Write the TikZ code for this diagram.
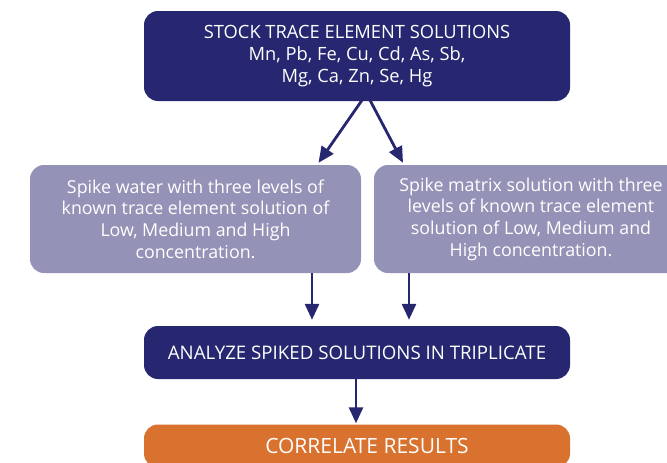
\documentclass[tikz,border=0pt]{standalone}
\usepackage{fontspec}
\setmainfont{Open Sans}
\usetikzlibrary{positioning, arrows.meta, calc}

\definecolor{navy}{RGB}{38,39,112}
\definecolor{lilac}{RGB}{148,146,182}
\definecolor{rust}{RGB}{216,114,46}

\tikzset{
  stepbox/.style={rounded corners=14pt, text=white, align=center, inner sep=0pt,
    font=\fontsize{18.3}{21.6}\selectfont},
  flow/.style={-{Triangle[length=16pt,width=14pt]}, line width=2.8pt, navy}
}

\begin{document}
\begin{tikzpicture}[x=1pt,y=-1pt]
        \useasboundingbox (0,0) rectangle (667,463);
        \clip (0,0) rectangle (667,463);

        % Boxes
        \node[stepbox, fill=navy, minimum width=426pt, minimum height=90pt] (stock) at (357,56)
          {STOCK TRACE ELEMENT SOLUTIONS\\Mn, Pb, Fe, Cu, Cd, As, Sb,\\Mg, Ca, Zn, Se, Hg};
        \node[stepbox, fill=lilac, minimum width=331pt, minimum height=108pt,
          font=\fontsize{17.8}{21.7}\selectfont] (water) at (195.5,219)
          {Spike water with three levels of\\known trace element solution of\\Low, Medium and High\\concentration.};
        \node[stepbox, fill=lilac, minimum width=314pt, minimum height=108pt,
          font=\fontsize{17.8}{21.7}\selectfont] (matrix) at (531,219)
          {Spike matrix solution with three\\levels of known trace element\\solution of Low, Medium and\\High concentration.};
        \node[stepbox, fill=navy, minimum width=426pt, minimum height=53pt,
          font=\fontsize{18.7}{22}\selectfont] (analyze) at (357,352.5)
          {ANALYZE SPIKED SOLUTIONS IN TRIPLICATE};
        \node[stepbox, fill=rust, minimum width=426pt, minimum height=43pt,
          font=\fontsize{21}{24}\selectfont] (results) at (357,446)
          {\hspace*{20pt}CORRELATE RESULTS};

        % Arrows
        \draw[flow] ($(stock.south)+(5,-1)$) -- ($(water.north)+(123,-2)$);
        \draw[flow] ($(stock.south)+(13,-1)$) -- ($(matrix.north)+(-128,-2)$);
        \draw[flow] ($(water.south)+(116.5,0)$) -- ($(analyze.north)+(-45,-6)$);
        \draw[flow] ($(matrix.south)+(-122,0)$) -- ($(analyze.north)+(52,-6)$);
        \draw[flow] ($(analyze.south)+(-1,0)$) -- ($(results.north)+(-1,-1)$);
      \end{tikzpicture}
\end{document}
